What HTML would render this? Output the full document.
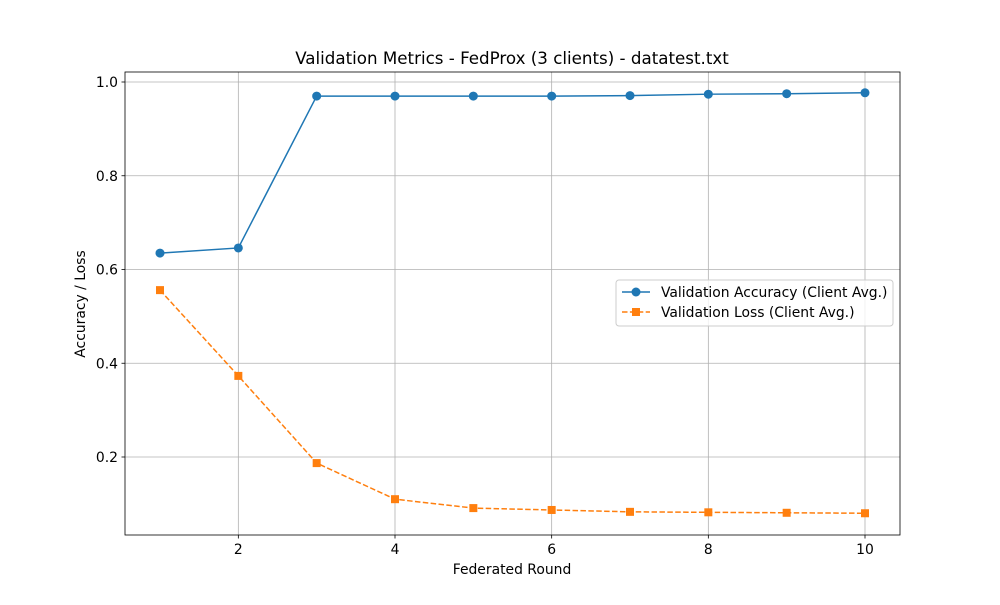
<!DOCTYPE html>
<html><head><meta charset="utf-8"><style>body{margin:0;background:#fff}svg{font-family:"DejaVu Sans","Liberation Sans",sans-serif}</style></head>
<body>
<svg id="c" width="1000" height="600"></svg>
<script>
const rounds=[1,2,3,4,5,6,7,8,9,10];
const accuracy=[0.635,0.646,0.970,0.970,0.970,0.970,0.971,0.974,0.975,0.977];
const loss=[0.556,0.373,0.187,0.110,0.091,0.087,0.083,0.082,0.081,0.080];
const xTicks=[2,4,6,8,10];
const yTicks=[0.2,0.4,0.6,0.8,1.0];
const L=125,R=900,T=72,B=535;
const X=v=>160+(v-1)*(865-160)/9;
const Y=v=>82+(1-v)*468.75;
const svg=document.getElementById('c');const NS='http://www.w3.org/2000/svg';
function mk(t,a,p){const e=document.createElementNS(NS,t);for(const k in a)e.setAttribute(k,a[k]);(p||svg).appendChild(e);return e;}
let e;
e=mk('text',{x:512,y:64,'font-size':16.7,'text-anchor':'middle'});e.textContent='Validation Metrics - FedProx (3 clients) - datatest.txt';


xTicks.forEach(t=>{const x=X(t);
e=mk('line',{x1:x,x2:x,y1:T,y2:B,stroke:'#b0b0b0','stroke-width':0.8});


mk('line',{x1:x,x2:x,y1:B,y2:B+3.5,stroke:'#000','stroke-width':0.8});
e=mk('text',{x:x,y:B+19,'font-size':13.9,'text-anchor':'middle'});e.textContent=t;

});
yTicks.forEach(t=>{const y=Y(t);
e=mk('line',{x1:L,x2:R,y1:y,y2:y,stroke:'#b0b0b0','stroke-width':0.8});


mk('line',{x1:L-3.5,x2:L,y1:y,y2:y,stroke:'#000','stroke-width':0.8});
e=mk('text',{x:L-7,y:y+5,'font-size':13.9,'text-anchor':'end'});e.textContent=t.toFixed(1);

});
e=mk('rect',{x:L,y:T,width:R-L,height:B-T,fill:'none',stroke:'#000','stroke-width':0.8});


e=mk('text',{x:512,y:574,'font-size':13.9,'text-anchor':'middle'});e.textContent='Federated Round';


e=mk('text',{x:85,y:304,'font-size':13.9,'text-anchor':'middle',transform:'rotate(-90 85 304)'});e.textContent='Accuracy / Loss';


e=mk('polyline',{points:rounds.map((r,i)=>X(r)+','+Y(accuracy[i])).join(' '),fill:'none',stroke:'#1f77b4','stroke-width':1.5});


rounds.forEach((r,i)=>{e=mk('circle',{cx:X(r),cy:Y(accuracy[i]),r:4.5,fill:'#1f77b4'});

});
e=mk('polyline',{points:rounds.map((r,i)=>X(r)+','+Y(loss[i])).join(' '),fill:'none',stroke:'#ff7f0e','stroke-width':1.5,'stroke-dasharray':'5.5,2.4'});


rounds.forEach((r,i)=>{e=mk('rect',{x:X(r)-4,y:Y(loss[i])-4,width:8,height:8,fill:'#ff7f0e'});

});
const g=mk('g',{});


mk('rect',{x:616,y:280,width:277,height:46,rx:3,fill:'#fff','fill-opacity':0.8,stroke:'#ccc'},g);
mk('line',{x1:622,x2:650,y1:292,y2:292,stroke:'#1f77b4','stroke-width':1.5},g);
mk('circle',{cx:636,cy:292,r:4.5,fill:'#1f77b4'},g);
e=mk('text',{x:661,y:297,'font-size':13.9},g);e.textContent='Validation Accuracy (Client Avg.)';


mk('line',{x1:622,x2:650,y1:312,y2:312,stroke:'#ff7f0e','stroke-width':1.5,'stroke-dasharray':'5.5,2.4'},g);
mk('rect',{x:632,y:308,width:8,height:8,fill:'#ff7f0e'},g);
e=mk('text',{x:661,y:317,'font-size':13.9},g);e.textContent='Validation Loss (Client Avg.)';


</script>
</body></html>
